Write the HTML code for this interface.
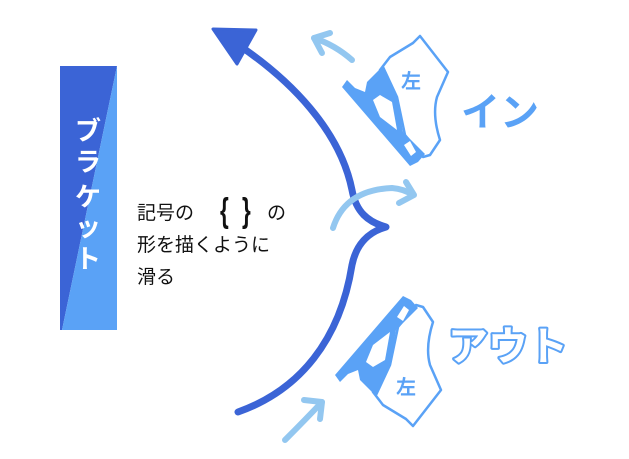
<!DOCTYPE html>
<html><head><meta charset="utf-8"><style>
html,body{margin:0;padding:0;background:#fff;}
svg{display:block;}
text{font-family:"Liberation Sans","Noto Sans CJK JP",sans-serif;}
</style></head><body>
<svg width="629" height="459" viewBox="0 0 629 459" xmlns="http://www.w3.org/2000/svg">
<defs>
<g id="skate">
  <path d="M380,70 L390,57 L413,43 L420,36 L448,72 L437,97 Q432,115 440,140 L430,155 L423,157 L405,135 L397,97 L383,67 Z" fill="#fff" stroke="#5aa2f6" stroke-width="2.5" stroke-linejoin="round"/>
  <path d="M367,82 L383,66 L397,96 L403,132 L425,154 L418,162 L410,166 L342,87 L347,80 L355,88 L365,92 Z" fill="#5aa2f6"/>
  <path d="M373,100 L380,95 L392,102 L397,130 L380,117 Z" fill="#fff"/>
  <path d="M404,145 L410,141 L416,152 L411,156 Z" fill="#fff"/>
</g>
</defs>
<!-- left box -->
<polygon points="60,66 117,66 62,330 60,330" fill="#3b64d6"/>
<polygon points="117,66 117,330 62,330" fill="#5aa2f6"/>
<g fill="#fff" font-size="26" font-weight="bold" text-anchor="middle">
<text x="88" y="140">ブ</text>
<text x="88" y="171">ラ</text>
<text x="88" y="206">ケ</text>
<text x="88" y="236">ッ</text>
<text x="88" y="268">ト</text>
</g>
<!-- text -->
<text x="137" y="219" font-size="19" fill="#111">記号の</text>
<text transform="translate(220,222) scale(0.75,1.15)" font-size="30" fill="#111" font-weight="bold">{</text>
<text transform="translate(242,222) scale(0.75,1.15)" font-size="30" fill="#111" font-weight="bold">}</text>
<text x="267" y="219" font-size="19" fill="#111">の</text>
<text x="137" y="251" font-size="19" fill="#111">形を描くように</text>
<text x="137" y="283" font-size="19" fill="#111">滑る</text>
<!-- main bracket arc -->
<path d="M240,46 C290,80 340,130 352,190 C356,212 368,222 386,227 C368,232 356,245 352,265 C340,340 300,390 238,412" fill="none" stroke="#3b64d6" stroke-width="7" stroke-linecap="round" stroke-linejoin="round"/>
<polygon points="213,29 256,30 237,64" fill="#3b64d6" stroke="#3b64d6" stroke-width="3" stroke-linejoin="round"/>
<!-- light arrows -->
<g fill="none" stroke="#93c7f0" stroke-width="6" stroke-linecap="round" stroke-linejoin="round">
  <path d="M352,60 Q335,45 314,38"/>
  <path d="M330,33 L314,38 L322,53"/>
  <path d="M333,228 Q345,190 392,188 Q404,189 413,195"/>
  <path d="M406,182 L414,195 L399,203"/>
  <path d="M285,440 Q305,420 322,402"/>
  <path d="M304,400 L322,402 L320,419"/>
</g>
<!-- skates -->
<use href="#skate"/>
<use href="#skate" transform="translate(-7,462) scale(1,-1)"/>
<text x="401" y="88" font-size="20" font-weight="bold" fill="#5aa2f6">左</text>
<text x="396" y="394" font-size="20" font-weight="bold" fill="#5aa2f6">左</text>
<!-- labels -->
<text x="461" y="126" font-size="39" font-weight="bold" fill="#5aa2f6">イン</text>
<text x="448" y="360" font-size="40" font-weight="bold" fill="#fff" stroke="#5aa2f6" stroke-width="4" stroke-linejoin="round" paint-order="stroke" style="paint-order:stroke">アウト</text>
</svg>
</body></html>
